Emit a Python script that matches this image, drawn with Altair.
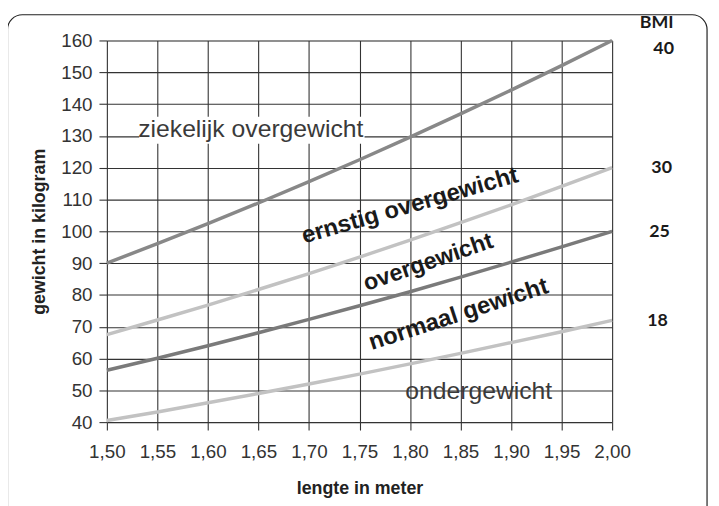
import altair as alt
import pandas as pd

# lengths (m) and weights (kg) for each BMI boundary line
lengths = [1.50, 1.55, 1.60, 1.65, 1.70, 1.75, 1.80, 1.85, 1.90, 1.95, 2.00]
bmi40 = [90.0, 96.1, 102.4, 108.9, 115.6, 122.5, 129.6, 136.9, 144.4, 152.1, 160.0]
bmi30 = [67.5, 72.1, 76.8, 81.7, 86.7, 91.9, 97.2, 102.7, 108.3, 114.1, 120.0]
bmi25 = [56.3, 60.1, 64.0, 68.1, 72.3, 76.6, 81.0, 85.6, 90.3, 95.1, 100.0]
bmi18 = [40.5, 43.2, 46.1, 49.0, 52.0, 55.1, 58.3, 61.6, 65.0, 68.4, 72.0]

bmi_names = ["40", "30", "25", "18"]
bmi_colors = ["#888888", "#c2c2c2", "#7a7a7a", "#c2c2c2"]
x_ticks = lengths
y_ticks = [40, 50, 60, 70, 80, 90, 100, 110, 120, 130, 140, 150, 160]

# region labels
zone_text = ["ziekelijk overgewicht", "ernstig overgewicht", "overgewicht", "normaal gewicht", "ondergewicht"]
zone_x = [1.531, 1.800, 1.818, 1.848, 1.868]
zone_y = [132.0, 108.0, 90.2, 73.8, 49.6]

# BMI labels on the right
bmi_lab_text = ["BMI", "40", "30", "25", "18"]
bmi_lab_x = [2.044, 2.051, 2.049, 2.047, 2.045]
bmi_lab_y = [165.5, 157.3, 119.9, 99.7, 71.7]

rows = []
for name, vals in zip(bmi_names, [bmi40, bmi30, bmi25, bmi18]):
    for h, w in zip(lengths, vals):
        rows.append({"h": h, "w": w, "bmi": name})
lines_df = pd.DataFrame(rows)

xscale = alt.Scale(domain=[1.5, 2.0], nice=False, zero=False)
yscale = alt.Scale(domain=[40, 160], nice=False, zero=False)

axis_common = dict(
    grid=True, gridColor="#333333", gridWidth=1.1, gridOpacity=1,
    domain=False, tickColor="#333333", tickSize=8, tickWidth=1.1,
    labelFont="Liberation Sans", labelFontSize=19, labelColor="#333333",
    labelOverlap=False, labelFlush=False,
    titleFont="Liberation Sans", titleFontSize=18,
    titleFontWeight="bold", titleColor="#222222", zindex=0,
)

x_axis = alt.Axis(
    values=x_ticks, title="lengte in meter",
    labelExpr="replace(format(datum.value, '.2f'), '.', ',')",
    labelPadding=13, titlePadding=18, **axis_common)
y_axis = alt.Axis(
    values=y_ticks, title="gewicht in kilogram", labelPadding=7,
    titlePadding=12, **axis_common)


def X():
    return alt.X("h:Q", scale=xscale, axis=x_axis)


def Y():
    return alt.Y("w:Q", scale=yscale, axis=y_axis)


lines = alt.Chart(lines_df).mark_line(strokeWidth=3.5, clip=False).encode(
    x=X(), y=Y(),
    color=alt.Color("bmi:N", scale=alt.Scale(domain=bmi_names, range=bmi_colors), legend=None),
    detail="bmi:N",
)

frame = alt.Chart(pd.DataFrame({"a": [0]})).mark_rect(
    fillOpacity=0, stroke="#222222", strokeWidth=1.2, cornerRadius=15, clip=False
).encode(x=alt.value(-100.5), x2=alt.value(607), y=alt.value(-26), y2=alt.value(490))

cover = alt.Chart(pd.DataFrame({"h": [1.532], "h2": [1.755], "w": [127.5], "w2": [136.0]})).mark_rect(
    fill="white", opacity=1
).encode(x=X(), x2="h2:Q", y=Y(), y2="w2:Q")

zones = pd.DataFrame({"t": zone_text, "h": zone_x, "w": zone_y})
angles = [0, 344, 341, 342, 0]
aligns = ["left", "center", "center", "center", "center"]
weights = ["normal", "bold", "bold", "bold", "normal"]
colors = ["#3a3a3a", "#1a1a1a", "#1a1a1a", "#1a1a1a", "#3a3a3a"]
sizes = [25, 24, 23.5, 24, 25]

zone_layers = []
for i in range(len(zone_text)):
    zone_layers.append(
        alt.Chart(zones.iloc[[i]]).mark_text(
            font="Liberation Sans", fontSize=sizes[i], fontWeight=weights[i],
            angle=angles[i], align=aligns[i], baseline="middle", color=colors[i]
        ).encode(x=X(), y=Y(), text="t:N")
    )

bmi_labs = alt.Chart(pd.DataFrame({"t": bmi_lab_text, "h": bmi_lab_x, "w": bmi_lab_y})).mark_text(
    font="Lato", fontSize=18, fontWeight="bold", color="#1a1a1a", align="center", baseline="middle", clip=False
).encode(x=X(), y=Y(), text="t:N")

chart = alt.layer(frame, lines, cover, *zone_layers, bmi_labs).properties(
    width=511, height=386,
    autosize=alt.AutoSizeParams(type="none"),
    padding={"left": 100, "top": 30, "right": 100, "bottom": 82},
).configure_view(stroke=None).configure(background="white")

chart.save("out.html", embed_options={"renderer": "svg", "actions": False})
